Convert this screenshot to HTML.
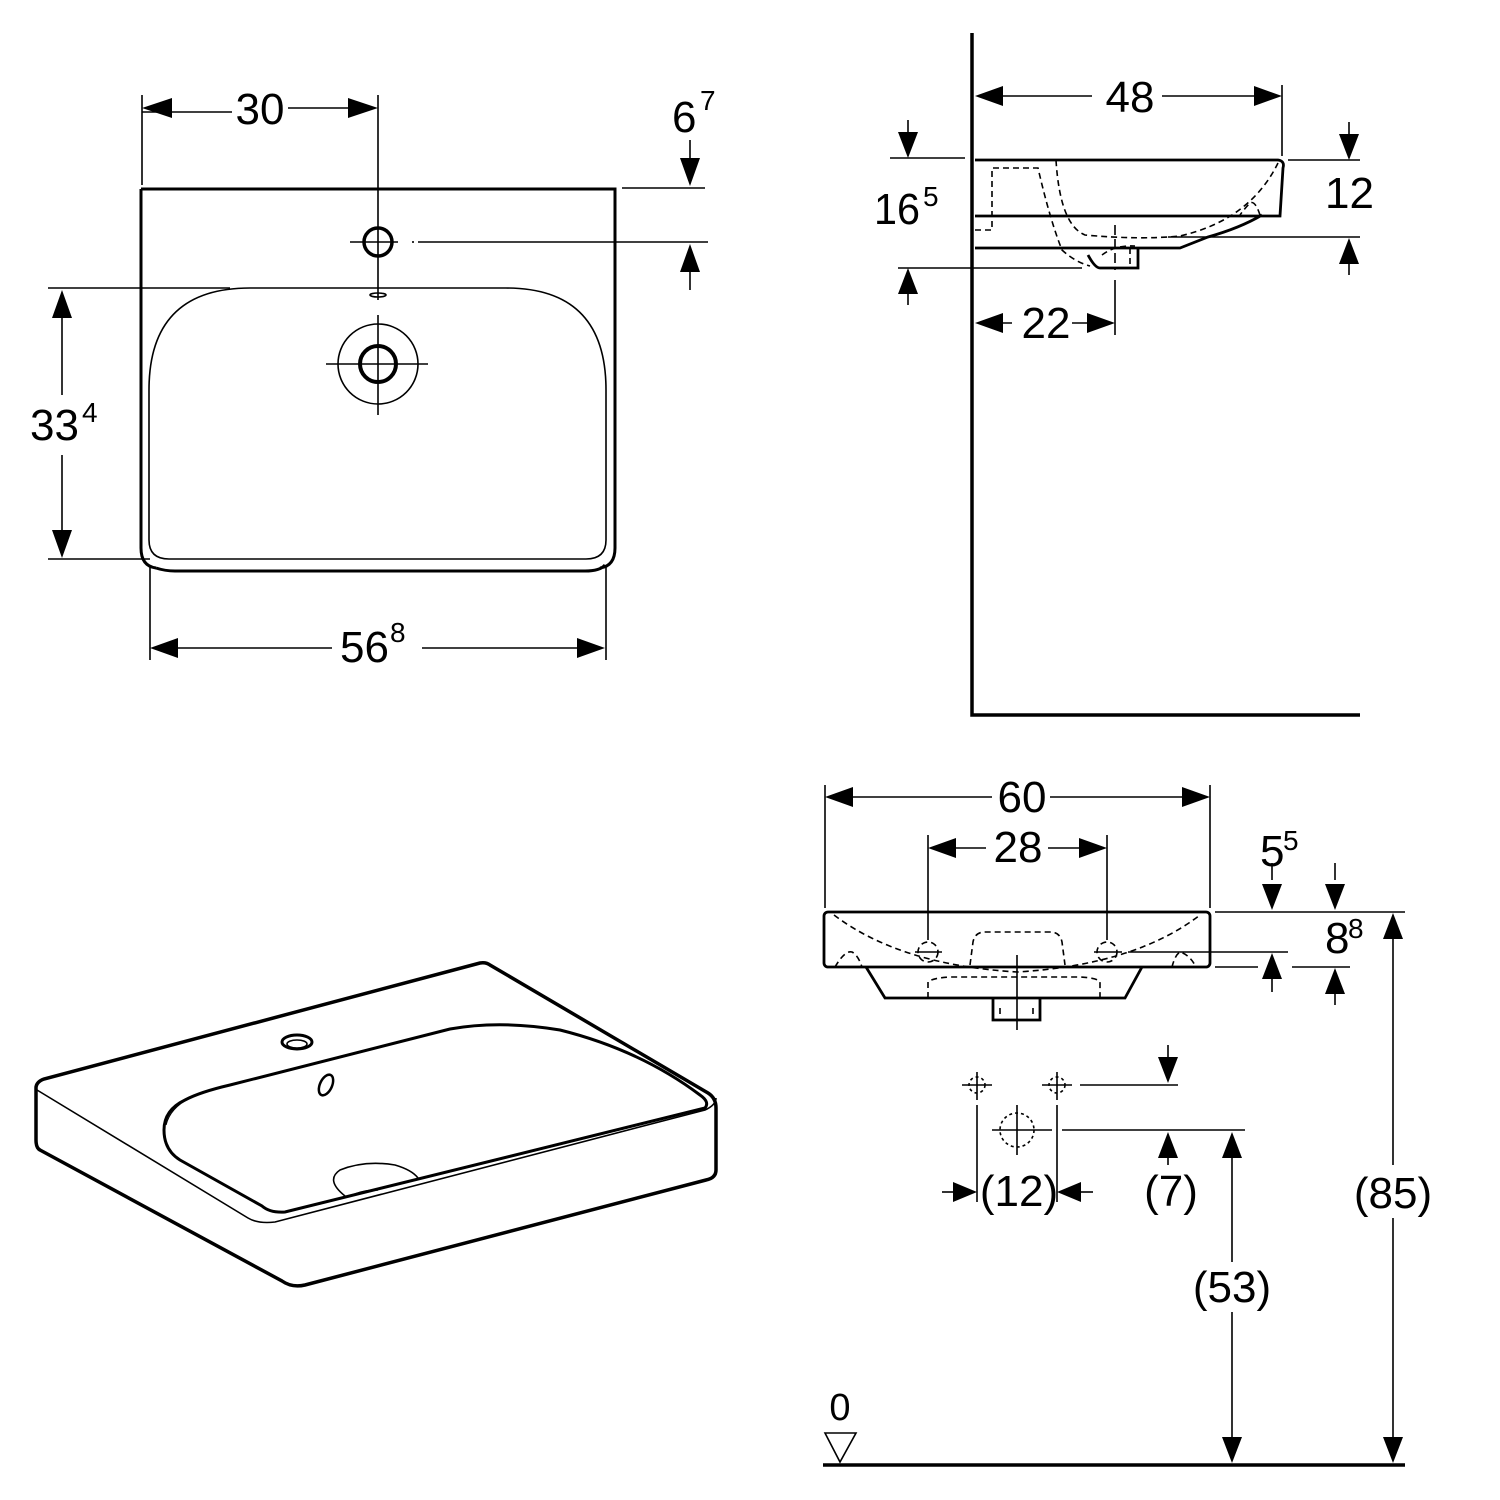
<!DOCTYPE html>
<html><head><meta charset="utf-8"><style>
html,body{margin:0;padding:0;background:#fff}
svg{display:block}
text{font-family:"Liberation Sans",sans-serif;fill:#000}
</style></head><body>
<svg width="1500" height="1500" viewBox="0 0 1500 1500" xmlns="http://www.w3.org/2000/svg">
<g stroke="#000" fill="none" stroke-width="1.6">
<!-- ===== TOP LEFT PLAN ===== -->
<path d="M142 112 H232 M288 108 H352" />
<line x1="142" y1="95" x2="142" y2="185"/>
<line x1="378" y1="95" x2="378" y2="300"/>
<path d="M141 189 H615 V548 Q615 566 600 568 M141 189 V548 Q141 566 156 568 M156 568 Q165 571 175 571 H585 Q600 571 605 565" stroke-width="3"/>
<path d="M149 540 V390 Q149 288 250 288 H506 Q606 288 606 390 V540 Q606 559 586 559 H169 Q149 559 149 540 Z"/>
<circle cx="378" cy="242" r="14" stroke-width="3.5"/>
<line x1="350" y1="242" x2="398" y2="242"/>
<line x1="412" y1="242" x2="414" y2="242"/>
<line x1="418" y1="242" x2="708" y2="242"/>
<line x1="622" y1="188" x2="705" y2="188"/>
<ellipse cx="378" cy="295" rx="8" ry="2"/>
<circle cx="378" cy="364" r="40"/>
<circle cx="378" cy="364" r="18" stroke-width="4"/>
<line x1="326" y1="364" x2="428" y2="364"/>
<line x1="378" y1="315" x2="378" y2="415"/>
<line x1="690" y1="140" x2="690" y2="160"/>
<line x1="690" y1="268" x2="690" y2="290"/>
<line x1="48" y1="288" x2="230" y2="288"/>
<line x1="48" y1="559" x2="150" y2="559"/>
<line x1="62" y1="300" x2="62" y2="395"/>
<line x1="62" y1="455" x2="62" y2="550"/>
<line x1="150" y1="565" x2="150" y2="660"/>
<line x1="606" y1="565" x2="606" y2="660"/>
<path d="M160 648 H332 M422 648 H596"/>

<!-- ===== TOP RIGHT SIDE ===== -->
<path d="M972 33 V715 H1360" stroke-width="3.5"/>
<path d="M985 96 H1092 M1162 96 H1272"/>
<line x1="1282" y1="85" x2="1282" y2="156"/>
<path d="M975 160 H1278 Q1285 161 1283 168 L1280 216 H975 M975 248 H1180 L1208 237 Q1240 228 1262 215 M1088 255 Q1095 268 1100 268 H1138 V248" stroke-width="2.8"/>
<g stroke-dasharray="6 4">
<path d="M975 230 H992 V168 H1038 Q1050 220 1062 250 Q1075 262 1090 266"/>
<path d="M1056 160 Q1060 225 1085 235 Q1140 240 1180 236 Q1250 220 1278 163"/>
<path d="M1260 215 Q1255 200 1250 203 Q1245 208 1240 215"/>
<path d="M1130 248 V266 M1102 255 Q1115 245 1135 246"/>
</g>
<line x1="1115" y1="280" x2="1115" y2="335"/>
<line x1="1115" y1="225" x2="1115" y2="270" stroke-dasharray="10 4"/>
<line x1="890" y1="158" x2="965" y2="158"/>
<line x1="898" y1="268" x2="1082" y2="268"/>
<line x1="908" y1="120" x2="908" y2="135"/>
<line x1="908" y1="290" x2="908" y2="305"/>
<line x1="1288" y1="160" x2="1360" y2="160"/>
<line x1="1168" y1="237" x2="1360" y2="237"/>
<line x1="1349" y1="122" x2="1349" y2="137"/>
<line x1="1349" y1="260" x2="1349" y2="275"/>
<path d="M985 323 H1012 M1072 323 H1095"/>

<!-- ===== BOTTOM RIGHT FRONT ===== -->
<line x1="825" y1="785" x2="825" y2="908"/>
<line x1="1210" y1="785" x2="1210" y2="908"/>
<path d="M835 797 H992 M1050 797 H1200"/>
<line x1="928" y1="835" x2="928" y2="940"/>
<line x1="1107" y1="835" x2="1107" y2="940"/>
<path d="M938 848 H986 M1048 848 H1097"/>
<rect x="824" y="912" width="386" height="55" rx="4" stroke-width="2.8"/>
<path d="M866 967 L885 998 H1125 L1142 967 M993 998 V1020 H1040 V998" stroke-width="2.8"/>
<g stroke-dasharray="6 4">
<path d="M834 915 Q900 965 1017 972 Q1135 965 1200 915"/>
<path d="M970 965 L973 942 Q975 932 985 932 H1050 Q1060 932 1062 942 L1065 965"/>
<path d="M928 998 V982 Q932 978 950 977 H1080 Q1098 978 1100 982 V998"/>
<path d="M1000 1008 V1018 M1033 1008 V1018"/>
<path d="M835 967 Q845 950 852 952 Q858 955 862 967 M1172 967 Q1175 955 1180 952 Q1190 955 1196 967"/>
<circle cx="928" cy="952" r="10"/><circle cx="1107" cy="952" r="10"/>
</g>
<path d="M915 952 H942 M1094 952 H1122"/>
<line x1="1017" y1="955" x2="1017" y2="1030"/>
<line x1="1215" y1="912" x2="1405" y2="912"/>
<line x1="1128" y1="952" x2="1288" y2="952"/>
<line x1="1215" y1="967" x2="1258" y2="967"/>
<line x1="1292" y1="967" x2="1350" y2="967"/>
<line x1="1272" y1="863" x2="1272" y2="880"/>
<line x1="1335" y1="863" x2="1335" y2="880"/>
<line x1="1272" y1="975" x2="1272" y2="992"/>
<line x1="1335" y1="990" x2="1335" y2="1005"/>
<!-- lower sketch -->
<path d="M962 1085 H992 M977 1072 V1100 M1042 1085 H1072 M1057 1072 V1100"/>
<g stroke-dasharray="3 3"><circle cx="977" cy="1085" r="8"/><circle cx="1057" cy="1085" r="8"/><circle cx="1017" cy="1130" r="17"/></g>
<path d="M992 1130 H1052 M1017 1105 V1155"/>
<line x1="977" y1="1105" x2="977" y2="1202"/>
<line x1="1057" y1="1105" x2="1057" y2="1202"/>
<line x1="1080" y1="1085" x2="1178" y2="1085"/>
<line x1="1062" y1="1130" x2="1245" y2="1130"/>
<line x1="1168" y1="1045" x2="1168" y2="1060"/>
<line x1="1168" y1="1150" x2="1168" y2="1165"/>
<line x1="942" y1="1192" x2="955" y2="1192"/>
<line x1="1080" y1="1192" x2="1093" y2="1192"/>
<path d="M1232 1150 V1262 M1232 1312 V1445"/>
<path d="M1393 925 V1165 M1393 1218 V1445"/>
<line x1="823" y1="1465" x2="1405" y2="1465" stroke-width="3.5"/>
<path d="M825 1433 H856 L840 1462 Z"/>

<!-- ===== ISO VIEW ===== -->
<path d="M36 1088 Q36 1082 44 1079 L480 963 Q486 962 490 965 L708 1093 Q716 1098 716 1108 V1170 Q716 1178 706 1180 L305 1285 Q292 1288 282 1281 L40 1150 Q36 1148 36 1140 Z" stroke-width="3.5"/>
<path d="M37 1090 L248 1218 Q258 1224 275 1222 L705 1110 Q716 1105 716 1098"/>
<path d="M164 1130 Q164 1110 185 1100 Q200 1092 230 1085 L450 1029 Q500 1020 560 1030 Q640 1050 700 1095 Q710 1102 705 1108 L285 1212 Q270 1213 262 1206 L180 1160 Q164 1150 164 1130 Z" stroke-width="3"/>
<path d="M190 1098 Q170 1108 166 1125" stroke-width="1.2"/>
<ellipse cx="297" cy="1042" rx="15" ry="7" stroke-width="3"/>
<ellipse cx="297" cy="1044" rx="10" ry="4"/>
<ellipse cx="326" cy="1085" rx="6" ry="11" transform="rotate(25 326 1085)" stroke-width="2.5"/>
<path d="M345 1196 Q325 1180 340 1170 Q365 1160 395 1165 Q412 1170 418 1178"/>
<path d="M355 1194 Q365 1190 378 1190"/>
</g>

<g fill="#000" stroke="none">
<polygon points="142,108 172,98 172,118"/><polygon points="378,108 348,98 348,118"/>
<polygon points="690,186 680,158 700,158"/><polygon points="690,244 680,272 700,272"/>
<polygon points="62,290 52,318 72,318"/><polygon points="62,558 52,530 72,530"/>
<polygon points="150,648 178,638 178,658"/><polygon points="605,648 577,638 577,658"/>
<polygon points="975,96 1003,86 1003,106"/><polygon points="1282,96 1254,86 1254,106"/>
<polygon points="908,158 898,132 918,132"/><polygon points="908,268 898,294 918,294"/>
<polygon points="1349,160 1339,134 1359,134"/><polygon points="1349,238 1339,264 1359,264"/>
<polygon points="975,323 1003,313 1003,333"/><polygon points="1115,323 1087,313 1087,333"/>
<polygon points="825,797 853,787 853,807"/><polygon points="1210,797 1182,787 1182,807"/>
<polygon points="928,848 956,838 956,858"/><polygon points="1107,848 1079,838 1079,858"/>
<polygon points="1272,910 1262,884 1282,884"/><polygon points="1335,910 1325,884 1345,884"/>
<polygon points="1272,953 1262,979 1282,979"/><polygon points="1335,968 1325,994 1345,994"/>
<polygon points="1168,1083 1158,1057 1178,1057"/><polygon points="1168,1132 1158,1158 1178,1158"/>
<polygon points="977,1192 953,1182 953,1202"/><polygon points="1057,1192 1081,1182 1081,1202"/>
<polygon points="1232,1132 1222,1158 1242,1158"/><polygon points="1232,1463 1222,1437 1242,1437"/>
<polygon points="1393,913 1383,939 1403,939"/><polygon points="1393,1463 1383,1437 1403,1437"/>
</g>

<g font-size="44">
<text x="260" y="124" text-anchor="middle">30</text>
<text x="672" y="132">6</text><text x="700" y="110" font-size="28">7</text>
<text x="30" y="440">33</text><text x="82" y="422" font-size="28">4</text>
<text x="340" y="662">56</text><text x="390" y="642" font-size="28">8</text>
<text x="1130" y="112" text-anchor="middle">48</text>
<text x="874" y="224" textLength="46" lengthAdjust="spacingAndGlyphs">16</text><text x="923" y="206" font-size="28">5</text>
<text x="1325" y="208">12</text>
<text x="1046" y="338" text-anchor="middle">22</text>
<text x="1022" y="812" text-anchor="middle">60</text>
<text x="1018" y="862" text-anchor="middle">28</text>
<text x="1260" y="866">5</text><text x="1283" y="850" font-size="28">5</text>
<text x="1325" y="953">8</text><text x="1348" y="938" font-size="28">8</text>
<text x="1019" y="1206" text-anchor="middle">(12)</text>
<text x="1171" y="1206" text-anchor="middle">(7)</text>
<text x="1232" y="1302" text-anchor="middle">(53)</text>
<text x="1393" y="1208" text-anchor="middle">(85)</text>
<text x="840" y="1420" text-anchor="middle" font-size="38">0</text>
</g>
</svg>
</body></html>
